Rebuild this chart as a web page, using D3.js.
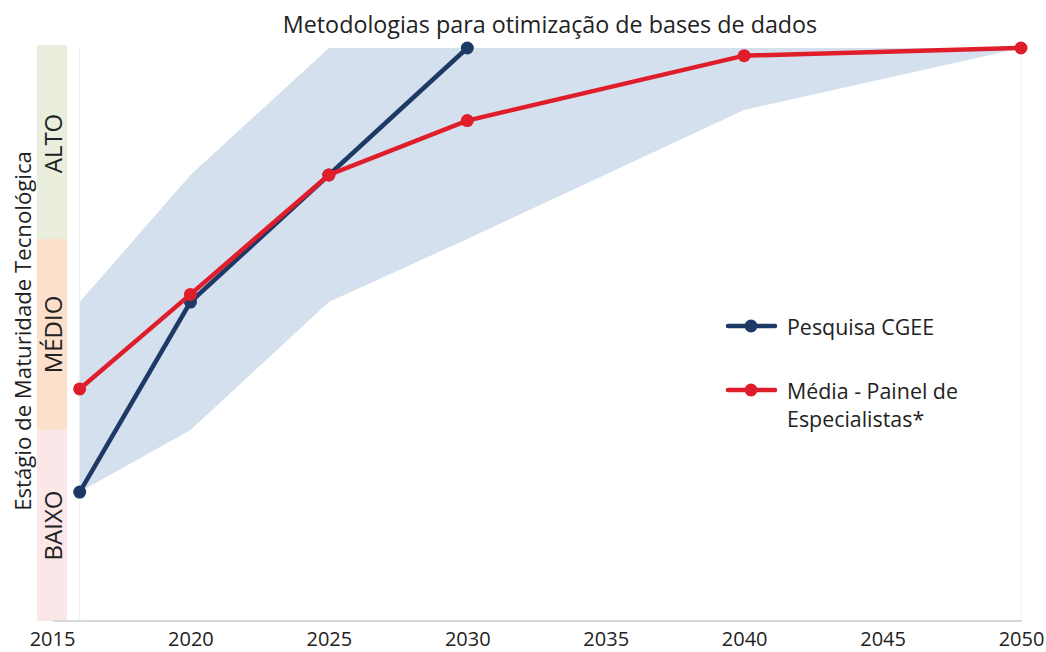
<!DOCTYPE html>
<html><head><meta charset="utf-8">
<script src="https://cdn.jsdelivr.net/npm/d3@7"></script>
<style>body{margin:0;background:#fff;}svg{display:block;font-family:"Open Sans",sans-serif;}</style>
</head><body><svg id="c" width="1046" height="652"></svg>
<script>
const years = [2016, 2020, 2025, 2030, 2040, 2050];
const cgeeYears = [2016, 2020, 2025, 2030];
const cgeeValues = [0.675, 1.67, 2.335, 3.0];
const mediaValues = [1.215, 1.71, 2.335, 2.62, 2.96, 3.0];
const bandUpper = [1.67, 2.335, 3.0, 3.0, 3.0, 3.0];
const bandLower = [0.675, 1.0, 1.67, 2.0, 2.675, 3.0];
const tickYears = [2015, 2020, 2025, 2030, 2035, 2040, 2045, 2050];
const stages = ["BAIXO", "MÉDIO", "ALTO"];
const stageColors = ["#fbe6e8", "#fde0cc", "#e9efdc"];

const svg = d3.select("#c");
const x = d3.scaleLinear().domain([2015, 2050]).range([52, 1021]);
const y = d3.scaleLinear().domain([0, 3]).range([621, 48]);

// stage bands
svg.selectAll("rect.stage").data(stages).join("rect")
  .attr("x", 37).attr("width", 30)
  .attr("y", (d, i) => y(i + 1) - 3 * (i === 2 ? 1 : 0))
  .attr("height", (d, i) => y(i) - y(i + 1) + (i === 2 ? 3 : 0))
  .attr("fill", (d, i) => stageColors[i]);
svg.selectAll("text.stage").data(stages).join("text")
  .attr("transform", (d, i) => `translate(62,${(y(i) + y(i + 1)) / 2}) rotate(-90)`)
  .attr("text-anchor", "middle").attr("font-size", 24).attr("fill", "#222")
  .text(d => d);

// faint verticals
svg.selectAll("line.v").data([2016, 2050]).join("line")
  .attr("x1", d => x(d)).attr("x2", d => x(d)).attr("y1", y(3)).attr("y2", y(0))
  .attr("stroke", "#f0f0f0").attr("stroke-width", 1);

// shaded band
const bandData = years.map((yr, i) => ({yr, lo: bandLower[i], hi: bandUpper[i]}));
svg.append("path").datum(bandData)
  .attr("d", d3.area().x(d => x(d.yr)).y0(d => y(d.lo)).y1(d => y(d.hi)))
  .attr("fill", "#d5e0ef");

// axis
const xAxis = d3.axisBottom(x).tickValues(tickYears).tickFormat(d3.format("d")).tickSize(0);
const ax = svg.append("g").attr("transform", `translate(0,${y(0)})`).call(xAxis);
ax.select(".domain").remove();
ax.append("line").attr("x1", 53).attr("x2", 1022).attr("y1", 0).attr("y2", 0)
  .attr("stroke", "#d9d9d9").attr("stroke-width", 2);
ax.selectAll("text").attr("y", 25).attr("dy", 0).attr("font-size", 20).attr("fill", "#222").attr("font-family", "Open Sans");

// lines
const navy = "#1d3966", red = "#e01e2b";
const line = d3.line().x(d => x(d[0])).y(d => y(d[1]));
const cgee = cgeeYears.map((yr, i) => [yr, cgeeValues[i]]);
const media = years.map((yr, i) => [yr, mediaValues[i]]);

svg.append("path").datum(cgee).attr("d", line).attr("fill", "none")
  .attr("stroke", navy).attr("stroke-width", 4.5);
svg.selectAll("circle.cg").data(cgee).join("circle")
  .attr("cx", d => x(d[0])).attr("cy", d => y(d[1])).attr("r", 6.5).attr("fill", navy);
svg.append("path").datum(media).attr("d", line).attr("fill", "none")
  .attr("stroke", red).attr("stroke-width", 4.5);
svg.selectAll("circle.md").data(media).join("circle")
  .attr("cx", d => x(d[0])).attr("cy", d => y(d[1])).attr("r", 6.5).attr("fill", red);

// title
svg.append("text").attr("x", 550).attr("y", 33).attr("text-anchor", "middle")
  .attr("font-size", 23.3).attr("fill", "#222").text("Metodologias para otimização de bases de dados");

// y title
svg.append("text").attr("transform", "translate(31,331) rotate(-90)").attr("text-anchor", "middle")
  .attr("font-size", 22.2).attr("fill", "#222").text("Estágio de Maturidade Tecnológica");

// legend
const legend = [
  {c: navy, lines: ["Pesquisa CGEE"], y: 326},
  {c: red, lines: ["Média - Painel de", "Especialistas*"], y: 390}
];
legend.forEach(l => {
  svg.append("line").attr("x1", 728).attr("x2", 775).attr("y1", l.y).attr("y2", l.y)
    .attr("stroke", l.c).attr("stroke-width", 4.5).attr("stroke-linecap", "round");
  svg.append("circle").attr("cx", 751).attr("cy", l.y).attr("r", 6.5).attr("fill", l.c);
  const t = svg.append("text").attr("x", 787).attr("y", l.y + 9).attr("font-size", 21.4).attr("fill", "#222");
  l.lines.forEach((s, i) => t.append("tspan").attr("x", 787).attr("dy", i ? 28 : 0).text(s));
});
</script></body></html>
